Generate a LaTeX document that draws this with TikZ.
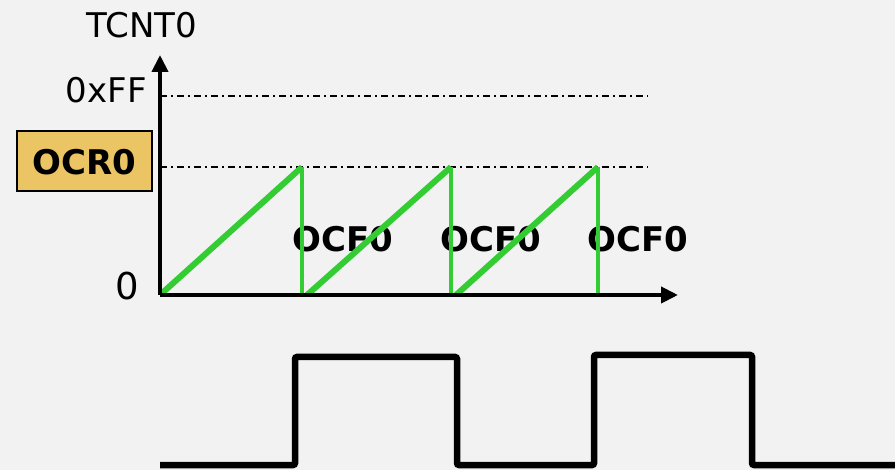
\documentclass[tikz,border=0pt]{standalone}
\usepackage{fontspec}
\setmainfont{DejaVu Sans}
\usetikzlibrary{arrows.meta}
\definecolor{bgcol}{RGB}{242,242,242}
\definecolor{ramp}{RGB}{51,204,51}
\definecolor{regfill}{RGB}{235,196,99}
\tikzset{
  lbl/.style={inner sep=0pt, font=\fontsize{34}{40}\selectfont},
  boldlbl/.style={inner sep=0pt, font=\fontsize{34}{40}\selectfont\bfseries},
  axis/.style={line width=4pt, -{Triangle[length=17pt,width=16pt]}},
  level/.style={line width=1.4pt, dash pattern=on 7pt off 4pt on 2pt off 4pt},
  saw/.style={ramp, line width=6pt},
  drop/.style={ramp, line width=4pt},
  wave/.style={line width=6.5pt, rounded corners=2pt}
}
\begin{document}
\begin{tikzpicture}[x=1pt,y=-1pt]
  \fill[bgcol] (0,0) rectangle (895,470);
  \useasboundingbox (0,0) rectangle (895,470);

  % axes
  \coordinate (orig) at (160,295);
  \coordinate (ytip) at (160,55);
  \coordinate (xtip) at (678,295);

  % levels
  \coordinate (ffL) at (160,96);
  \coordinate (ffR) at (648,96);
  \coordinate (ocL) at (160,167);
  \coordinate (ocR) at (648,167);
  \draw[level] (ffL) -- (ffR);
  \draw[level] (ocL) -- (ocR);

  % labels
  \node[lbl, anchor=base] (tcnt) at (142,38) {TCNT0};
  \node[lbl, anchor=base east] (ff) at (147,103) {0xFF};
  \node[lbl, anchor=base east, font=\fontsize{37}{42}\selectfont] (zero) at (139,300) {0};
  \node[draw=black, line width=1.5pt, fill=regfill, minimum width=135pt,
        minimum height=60pt, inner sep=0pt] (ocr) at (84.5,161) {};
  \node[boldlbl, anchor=base] (ocrtxt) at (84,175) {OCR0};

  \node[boldlbl, anchor=base] (f1) at (343,252) {OCF0};
  \node[boldlbl, anchor=base] (f2) at (491,252) {OCF0};
  \node[boldlbl, anchor=base] (f3) at (638,252) {OCF0};

  % counter sawtooth
  \coordinate (t1) at (302,167);
  \coordinate (b1) at (302,295);
  \coordinate (s2) at (307,295);
  \coordinate (t2) at (451,167);
  \coordinate (b2) at (451,295);
  \coordinate (s3) at (456,295);
  \coordinate (t3) at (598,167);
  \coordinate (b3) at (598,295);
  \draw[saw] (orig) -- (t1);
  \draw[drop] (t1) -- (b1);
  \draw[saw] (s2) -- (t2);
  \draw[drop] (t2) -- (b2);
  \draw[saw] (s3) -- (t3);
  \draw[drop] (t3) -- (b3);

  \draw[axis] (orig) -- (ytip);
  \draw[axis] (orig) -- (xtip);

  % output waveform
  \coordinate (w0) at (160,465);
  \coordinate (wend) at (900,465);
  \draw[wave] (w0) -- (295,465) -- (295,357) -- (457,357) -- (457,465)
    -- (594,465) -- (594,355) -- (752,355) -- (752,465) -- (wend);
\end{tikzpicture}
\end{document}
